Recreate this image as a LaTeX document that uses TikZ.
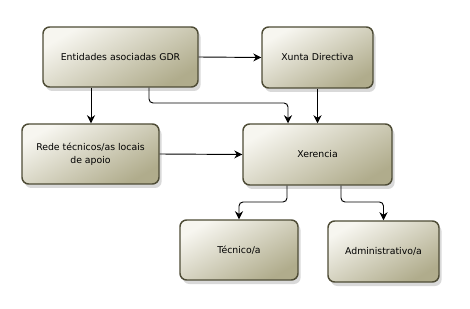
\documentclass[tikz,border=0pt]{standalone}
\usepackage{fontspec}
\setmainfont{DejaVu Sans}
\usetikzlibrary{arrows.meta,shadows,calc}
\definecolor{boxborder}{HTML}{4E4C36}
\definecolor{boxlight}{HTML}{F7F6F0}
\definecolor{boxdark}{HTML}{B0AC8C}
\tikzset{
  orgbox/.style={draw=boxborder, line width=1.1pt, rounded corners=5pt,
    top color=boxlight, bottom color=boxdark, shading angle=30,
    drop shadow={shadow xshift=2pt, shadow yshift=-3pt, opacity=0.25, fill=black!60},
    align=center, inner sep=2pt, font=\fontsize{7}{10}\selectfont},
  conn/.style={-{Stealth[length=6pt,width=6pt]}, line width=0.7pt, black, rounded corners=3pt}
}
\begin{document}
\begin{tikzpicture}[x=0.75pt,y=-0.75pt]
\useasboundingbox (0,0) rectangle (470,309);
\node[orgbox, minimum width=155*0.75pt, minimum height=60*0.75pt] (ent) at (120.5,57) {Entidades asociadas GDR};
\node[orgbox, minimum width=111*0.75pt, minimum height=61*0.75pt] (xun) at (317.5,57.5) {Xunta Directiva};
\node[orgbox, minimum width=137*0.75pt, minimum height=60*0.75pt] (rede) at (90.5,154) {Rede técnicos/as locais\\de apoio};
\node[orgbox, minimum width=149*0.75pt, minimum height=61*0.75pt] (xer) at (317.5,154.5) {Xerencia};
\node[orgbox, minimum width=118*0.75pt, minimum height=60*0.75pt] (tec) at (239,250) {Técnico/a};
\node[orgbox, minimum width=111*0.75pt, minimum height=61*0.75pt] (adm) at (383.5,251.5) {Administrativo/a};
\draw[conn] (ent.east) -- (xun.west);
\draw[conn] (ent.south -| 91,0) -- (rede.north -| 91,0);
\draw[conn] (ent.south -| 149,0) -- (149,103) -- (288,103) -- (xer.north -| 288,0);
\draw[conn] (xun.south) -- (xer.north -| 317.5,0);
\draw[conn] (rede.east) -- (xer.west);
\draw[conn] (xer.south -| 287,0) -- (287,202) -- (239,202) -- (tec.north);
\draw[conn] (xer.south -| 341,0) -- (341,202) -- (383.5,202) -- (adm.north);
\end{tikzpicture}
\end{document}
